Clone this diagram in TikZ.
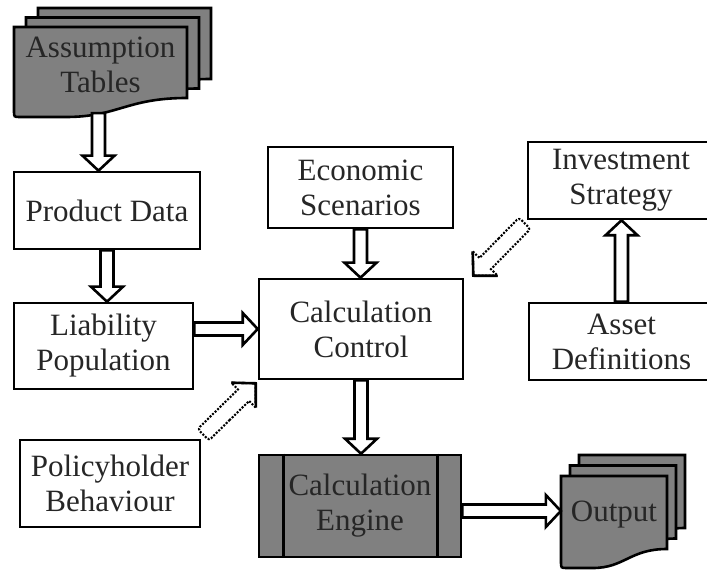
\documentclass[tikz,border=0pt]{standalone}
\usepackage{fontspec}
\setmainfont{Liberation Serif}
\usetikzlibrary{calc}

\tikzset{
  lbl/.style={align=center, inner sep=0pt, font=\fontsize{31}{35}\selectfont, text=black!85},
  box/.style={lbl, draw, line width=2.6pt, fill=white},
  doc/.style={draw, line width=2.6pt, fill=gray, line join=miter},
  barrow/.style={draw, line width=2.6pt, fill=white, line join=miter},
  darrow/.style={draw, line width=2.1pt, fill=white, dash pattern=on 2pt off 1.5pt},
  dhead/.style={draw, line width=2.6pt, line join=miter}
}

% hollow block arrow from #1 to #2
\newcommand\blockarrow[2]{%
  \coordinate (ba-h) at ($(#2)!15pt!(#1)$);
  \path[barrow] ($(#1)!6.5pt!90:(#2)$) -- ($(ba-h)!6.5pt!90:(#2)$)
    -- ($(ba-h)!16pt!90:(#2)$) -- (#2) -- ($(ba-h)!16pt!-90:(#2)$)
    -- ($(ba-h)!6.5pt!-90:(#2)$) -- ($(#1)!6.5pt!-90:(#2)$) -- cycle;}

% dotted-outline block arrow from #1 to #2
\newcommand\dotarrow[2]{%
  \coordinate (da-h) at ($(#2)!17pt!(#1)$);
  \coordinate (da-m) at ($(#1)!0.4!(#2)$);
  \path[darrow, rounded corners=3pt] ($(da-m)!8pt!-90:(#2)$) -- ($(#1)!8pt!-90:(#2)$)
    -- ($(#1)!8pt!90:(#2)$) -- ($(da-m)!8pt!90:(#2)$) [sharp corners]
    -- ($(da-h)!8pt!90:(#2)$) -- ($(da-h)!17.5pt!90:(#2)$) -- (#2)
    -- ($(da-h)!17.5pt!-90:(#2)$) -- ($(da-h)!8pt!-90:(#2)$) -- cycle;
  \path[dhead] ($(da-h)!17.5pt!90:(#2)$) -- (#2) -- ($(da-h)!17.5pt!-90:(#2)$);}

% document shape: left x, top y, width, height
\newcommand\docshape[4]{%
  \path[doc] (#1,#2) -- ({#1+#3},#2) -- ({#1+#3},{#2-#4+19})
    .. controls ({#1+0.65*#3},{#2-#4+19}) and ({#1+0.6*#3},{#2-#4}) .. ({#1+0.3*#3},{#2-#4})
    -- ({#1+6},{#2-#4}) .. controls (#1,{#2-#4}) .. (#1,{#2-#4+6}) -- cycle;}

\begin{document}
\begin{tikzpicture}[x=1pt,y=1pt]
\fill[white] (0,0) rectangle (707,571);
\useasboundingbox (0,0) rectangle (707,571);

% stacked documents: assumption tables
\docshape{38}{563}{173}{90}
\docshape{26}{553.5}{173}{90}
\docshape{14}{544}{173}{90}
\node[lbl, minimum width=173pt, minimum height=76pt] (asm) at (100.5,506) {Assumption\\Tables};

% stacked documents: output
\docshape{579}{116}{106}{92}
\docshape{570}{105.5}{106}{92}
\docshape{561}{95}{106}{92}
\node[lbl, minimum width=106pt, minimum height=78pt] (out) at (614,56) {Output};

% plain boxes
\node[box, minimum width=186pt, minimum height=77pt] (prod) at (107,360.5) {Product Data};
\node[box, minimum width=179pt, minimum height=86pt] (liab) at (103.5,225) {Liability\\Population};
\node[box, minimum width=180pt, minimum height=87pt] (pol) at (110,87.5) {Policyholder\\Behaviour};
\node[box, minimum width=185pt, minimum height=81pt] (econ) at (360.5,383.5) {Economic\\Scenarios};
\node[box, minimum width=204pt, minimum height=100pt] (calc) at (361,242) {Calculation\\Control};
\node[box, minimum width=186pt, minimum height=77pt] (inv) at (621,390.5) {Investment\\Strategy};
\node[box, minimum width=185pt, minimum height=77pt] (asset) at (621.5,229.5) {Asset\\Definitions};

% predefined process: calculation engine
\node[box, fill=gray, minimum width=202pt, minimum height=102pt] (eng) at (360,65) {Calculation\\Engine};
\draw[line width=2.6pt] ($(eng.north west)+(26,0)$) -- ($(eng.south west)+(26,0)$);
\draw[line width=2.6pt] ($(eng.north east)+(-25,0)$) -- ($(eng.south east)+(-25,0)$);

% connector end points
\coordinate (asmfoot) at ($(asm.south)+(-2,-10)$);
\coordinate (prodin) at (asmfoot |- prod.north);
\coordinate (liabin) at (prod.south |- liab.north);
\coordinate (liabout) at (liab.east |- calc.west);
\coordinate (econin) at (econ.south |- calc.north);
\coordinate (engin) at (calc.south |- eng.north);
\coordinate (invin) at (asset.north |- inv.south);
\coordinate (engout) at ($(eng.east)+(0,-5)$);
\coordinate (outin) at (engout -| out.west);
\coordinate (poltail) at ($(pol.north east)+(2,4)$);
\coordinate (poltip) at ($(calc.south west)+(-2,-3)$);
\coordinate (invtail) at ($(inv.south west)+(-2,-3)$);
\coordinate (invtip) at ($(calc.north east)+(9,2)$);

% block arrows
\blockarrow{asmfoot}{prodin}
\blockarrow{prod.south}{liabin}
\blockarrow{liabout}{calc.west}
\blockarrow{econ.south}{econin}
\blockarrow{calc.south}{engin}
\blockarrow{asset.north}{invin}
\blockarrow{engout}{outin}

% dotted block arrows
\dotarrow{poltail}{poltip}
\dotarrow{invtail}{invtip}
\end{tikzpicture}
\end{document}
